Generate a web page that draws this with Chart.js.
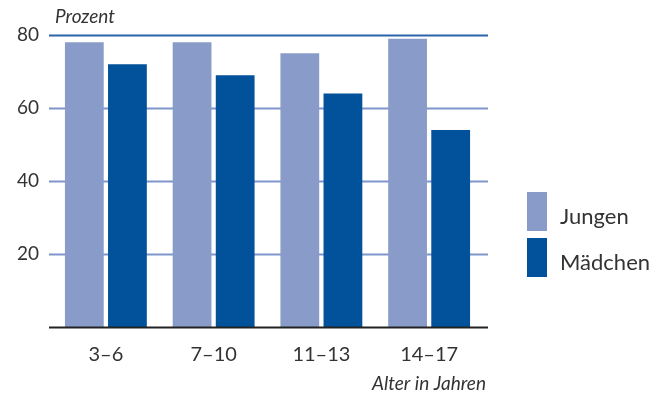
<!DOCTYPE html>
<html>
<head>
<meta charset="utf-8">
<script src="https://cdn.jsdelivr.net/npm/chart.js@4/dist/chart.umd.min.js"></script>
<style>
  html, body { margin: 0; padding: 0; background: #fff; }
  #wrap { width: 659px; height: 396px; position: relative; }
</style>
</head>
<body>
<div id="wrap"><canvas id="c" width="659" height="396"></canvas></div>
<script>
// Age groups and shares (percent) by sex
const categories = ['3–6', '7–10', '11–13', '14–17'];
const jungen = [78, 78, 75, 79];
const maedchen = [72, 69, 64, 54];
const yTicks = [20, 40, 60, 80];
const seriesNames = ['Jungen', 'Mädchen'];

const LIGHT = '#899cc9';
const DARK = '#02529b';
const TEXT = '#333333';
const FONT = 'Lato, "Open Sans", sans-serif';

// Horizontal guide lines, drawn behind the bars and a little wider than the plot
const gridPlugin = {
  id: 'gridLines',
  beforeDatasetsDraw(chart) {
    const { ctx, scales: { y }, chartArea } = chart;
    const x0 = chartArea.left - 3, x1 = chartArea.right + 5;
    ctx.save();
    yTicks.forEach(v => {
      const py = Math.round(y.getPixelForValue(v)) + 0.5;
      ctx.beginPath();
      ctx.strokeStyle = v === 80 ? '#2a64ab' : '#7f96cb';
      ctx.lineWidth = 2;
      ctx.moveTo(x0, py);
      ctx.lineTo(x1, py);
      ctx.stroke();
    });
    ctx.restore();
  },
  afterDatasetsDraw(chart) {
    const { ctx, scales: { y }, chartArea } = chart;
    const py = Math.round(y.getPixelForValue(0)) + 0.5;
    ctx.save();
    ctx.beginPath();
    ctx.strokeStyle = '#222';
    ctx.lineWidth = 2;
    ctx.moveTo(chartArea.left - 3, py);
    ctx.lineTo(chartArea.right + 5, py);
    ctx.stroke();
    ctx.restore();
  }
};

// Axis captions and the legend on the right
const annotatePlugin = {
  id: 'annotate',
  afterDraw(chart) {
    const { ctx, chartArea } = chart;
    ctx.save();
    ctx.fillStyle = TEXT;
    ctx.font = 'italic 19px ' + FONT;
    ctx.textBaseline = 'alphabetic';
    ctx.textAlign = 'left';
    ctx.fillText('Prozent', 55, 23);
    ctx.textAlign = 'right';
    ctx.fillText('Alter in Jahren', chartArea.right + 3, 390);

    const colors = [LIGHT, DARK];
    const tops = [192, 238];
    ctx.textAlign = 'left';
    ctx.textBaseline = 'middle';
    ctx.font = '22px ' + FONT;
    seriesNames.forEach((name, i) => {
      ctx.fillStyle = colors[i];
      ctx.fillRect(527, tops[i], 20, 39);
      ctx.fillStyle = TEXT;
      ctx.fillText(name, 560, tops[i] + 25);
    });
    ctx.restore();
  }
};

new Chart(document.getElementById('c'), {
  type: 'bar',
  data: {
    labels: categories,
    datasets: [
      { label: seriesNames[0], data: jungen, backgroundColor: LIGHT },
      { label: seriesNames[1], data: maedchen, backgroundColor: DARK }
    ]
  },
  options: {
    responsive: false,
    animation: false,
    devicePixelRatio: 1,
    layout: { padding: { top: 35, right: 176, bottom: 0, left: 0 } },
    categoryPercentage: 0.8,
    barPercentage: 0.9,
    plugins: { legend: { display: false }, tooltip: { enabled: false } },
    scales: {
      x: {
        grid: { display: false, drawTicks: false },
        border: { display: false },
        ticks: { color: TEXT, font: { family: FONT, size: 20 }, padding: 16 },
        afterFit(s) { s.height = 69; }
      },
      y: {
        min: 0, max: 80,
        grid: { display: false, drawTicks: false },
        border: { display: false },
        ticks: {
          stepSize: 20,
          color: TEXT,
          font: { family: FONT, size: 19 },
          padding: 13,
          callback: v => (v === 0 ? '' : v)
        },
        afterFit(s) { s.width = 52; }
      }
    }
  },
  plugins: [gridPlugin, annotatePlugin]
});
</script>
</body>
</html>
